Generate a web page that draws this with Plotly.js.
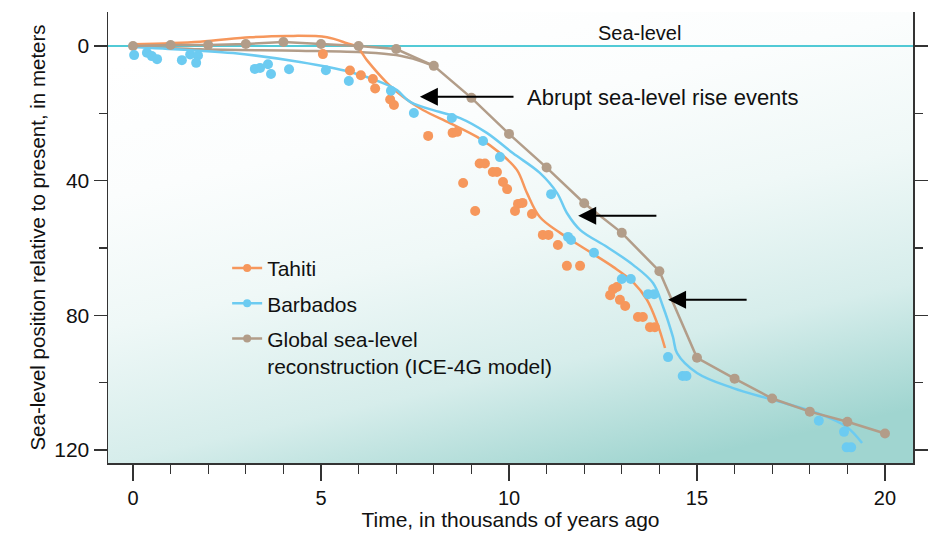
<!DOCTYPE html>
<html>
<head>
<meta charset="utf-8">
<script src="https://cdn.plot.ly/plotly-3.0.1.min.js"></script>
<style>html,body{margin:0;padding:0;background:#fff}#chart{width:938px;height:534px}</style>
</head>
<body>
<div id="chart"></div>
<script>
// ---- data (time in thousands of years ago, sea level in meters below present) ----
const tahitiX = [5.05,5.77,6.06,6.38,6.44,6.84,6.94,7.85,8.5,8.62,9.22,9.36,9.57,9.68,9.84,9.95,8.78,10.24,10.36,10.16,10.61,9.1,10.9,11.05,11.3,11.54,11.89,12.77,12.87,12.69,12.95,13.09,13.43,13.56,13.75,13.88];
const tahitiY = [2.4,7.3,8.7,9.8,12.6,15.9,17.5,26.7,25.8,25.5,34.9,34.9,37.4,37.4,40.4,42.5,40.7,46.9,46.6,49,49.9,49,56.1,56.1,59.1,65.3,65.3,72.2,71.6,74,75.4,77.2,80.5,80.5,83.5,83.5];

const barbadosX = [0.03,0.37,0.5,0.64,1.3,1.52,1.73,1.68,3.24,3.38,3.59,3.67,4.15,5.13,5.74,6.86,7.47,8.48,9.31,9.76,11.12,11.57,11.65,12.26,13.0,13.24,13.7,13.86,14.23,14.62,14.72,18.24,18.91,18.98,19.1];
const barbadosY = [2.7,2.0,3.0,3.9,4.2,2.5,2.8,5.0,6.8,6.5,5.4,8.3,6.9,7.2,10.4,13.3,19.9,21.4,28.2,33,44,56.7,57.6,61.4,69.2,69.2,73.7,73.7,92.4,98,98,111.3,114.6,119.2,119.2];

const tahitiCurveX = [0,1.78,3.11,4.1,5.16,5.69,5.96,6.22,6.76,7.18,7.71,8.43,9.15,9.76,10.21,10.48,10.82,11.36,12.07,12.77,13.3,13.67,13.94,14.15];
const tahitiCurveY = [-0.5,-1.3,-2.6,-3.0,-2.6,-0.8,0.3,4.2,11,15.1,19,22.9,27,31.8,36.8,43.7,50.8,55.5,60.6,65.6,70.1,75.4,82.3,89.7];

const barbadosCurveX = [0,0.5,2.66,4.44,5.77,6.65,7.02,7.37,8.16,8.7,9.41,10.1,10.82,11.28,11.54,11.89,12.61,13.3,13.83,14.1,14.36,14.47,15.0,15.96,17.02,18.19,18.99,19.39];
const barbadosCurveY = [0.3,0.6,2.1,4.75,7.7,11,13.1,16.6,19.6,21.4,25.8,31.8,37.7,43.7,49.6,54.6,59.7,65,70.4,77.5,86.4,91.2,97.1,101.6,105.1,109,113.2,117.9];

const globalX = [0,1,2,3,4,5,6,7,8,9,10,11,12,13,14,15,16,17,18,19,20];
const globalY = [0,-0.3,-0.3,-0.6,-1.2,-0.6,0,0.9,5.9,15.4,26.1,36.1,46.7,55.5,66.9,92.6,98.8,104.7,108.6,111.6,115.1];

const globalAltX = [0,1.8,4.4,6.2,7.0,7.6,8];
const globalAltY = [0,1.0,1.4,1.9,2.7,4.3,5.9];

const arrowHeadX = [7.63,11.84,14.23];
const arrowTailX = [10.16,13.96,16.36];
const arrowY = [15.1,50.4,75.4];

const legendNames = ['Tahiti','Barbados','Global sea-level<br>reconstruction (ICE-4G model)'];

// ---- styles ----
const ORANGE = '#f6975c', BLUE = '#6ccbf1', BROWN = '#b29d89', CYAN = '#19b9c8';
const FONT = '"Liberation Sans", Arial, Helvetica, sans-serif';
const NARROW = '"Liberation Sans Narrow", "Arial Narrow", "Liberation Sans", Arial, sans-serif';

const traces = [
  {x: globalAltX, y: globalAltY, mode:'lines', line:{color:BROWN, width:2.5, shape:'spline'}, showlegend:false, hoverinfo:'skip'},
  {x: tahitiCurveX, y: tahitiCurveY, mode:'lines', line:{color:ORANGE, width:2.5, shape:'spline'}, showlegend:false},
  {x: barbadosCurveX, y: barbadosCurveY, mode:'lines', line:{color:BLUE, width:2.5, shape:'spline'}, showlegend:false},
  {x: globalX, y: globalY, mode:'lines+markers', line:{color:BROWN, width:2.5}, marker:{color:BROWN, size:10}, showlegend:false},
  {x: tahitiX, y: tahitiY, mode:'markers', marker:{color:ORANGE, size:10}, showlegend:false},
  {x: barbadosX, y: barbadosY, mode:'markers', marker:{color:BLUE, size:10}, showlegend:false},
  {x:[null], y:[null], name:legendNames[0], legendgroup:'a', mode:'lines+markers', line:{color:ORANGE, width:2.5}, marker:{color:ORANGE, size:8}},
  {x:[null], y:[null], name:legendNames[1], legendgroup:'b', mode:'lines+markers', line:{color:BLUE, width:2.5}, marker:{color:BLUE, size:8}},
  {x:[null], y:[null], name:legendNames[2], legendgroup:'c', mode:'lines+markers', line:{color:BROWN, width:2.5}, marker:{color:BROWN, size:8}}
];

const annotations = arrowHeadX.map((hx, i) => ({
  x: hx, y: arrowY[i], ax: arrowTailX[i], ay: arrowY[i], axref:'x', ayref:'y', xref:'x', yref:'y',
  text:'', showarrow:true, arrowhead:2, arrowsize:1.8, arrowwidth:2, arrowcolor:'#000'
}));
annotations.push({x:10.43, y:15.3, xref:'x', yref:'y', text:'Abrupt sea-level rise events', showarrow:false, xanchor:'left', yanchor:'middle', font:{family:FONT, size:22, color:'#111'}});
annotations.push({x:13.48, y:0, xref:'x', yref:'y', text:'Sea-level', showarrow:false, xanchor:'center', yanchor:'bottom', yshift:0, font:{family:FONT, size:20, color:'#111'}});

const grad = '<svg xmlns="http://www.w3.org/2000/svg" width="800" height="450" viewBox="0 0 800 450" preserveAspectRatio="none">' +
  '<defs><linearGradient id="g" x1="0.3" y1="0" x2="0.7" y2="1">' +
  '<stop offset="0" stop-color="#ffffff"/><stop offset="0.25" stop-color="#fbfdfd"/><stop offset="0.5" stop-color="#eff8f7"/><stop offset="0.76" stop-color="#d6edeb"/><stop offset="1" stop-color="#a0d5d0"/>' +
  '</linearGradient></defs><rect width="800" height="450" fill="url(#g)"/></svg>';

const layout = {
  width: 938, height: 534,
  margin: {l:108, r:25, t:12, b:71},
  paper_bgcolor:'#ffffff', plot_bgcolor:'rgba(0,0,0,0)',
  font:{family:FONT, size:18, color:'#111'},
  images:[{source:'data:image/svg+xml;charset=utf-8,' + encodeURIComponent(grad), xref:'paper', yref:'paper', x:0, y:1, sizex:1, sizey:1, sizing:'stretch', xanchor:'left', yanchor:'top', layer:'below'}],
  xaxis:{range:[-0.665,20.745], showgrid:false, zeroline:false, showline:true, linecolor:'#333', linewidth:1.5,
    tickmode:'linear', tick0:0, dtick:5, ticks:'outside', ticklen:16, tickwidth:1.2, tickcolor:'#333',
    minor:{dtick:1, tick0:0, ticks:'outside', ticklen:9, tickwidth:1.2, tickcolor:'#333'},
    tickfont:{family:NARROW, size:20, color:'#111'},
    title:{text:'Time, in thousands of years ago', font:{family:FONT, size:21, color:'#111'}, standoff:5}},
  yaxis:{range:[123.85,-10.1], showgrid:false, zeroline:false, showline:true, mirror:'ticks', linecolor:'#333', linewidth:1.5,
    tickmode:'linear', tick0:0, dtick:40, ticks:'outside', ticklen:13, tickwidth:1.2, tickcolor:'#333',
    minor:{dtick:20, tick0:0, ticks:'outside', ticklen:8, tickwidth:1.2, tickcolor:'#333'},
    tickfont:{family:NARROW, size:21, color:'#111'},
    title:{text:'Sea-level position relative to present, in meters', font:{family:FONT, size:20.5, color:'#111'}, standoff:3}},
  shapes:[{type:'line', xref:'paper', x0:0, x1:1, yref:'y', y0:0, y1:0, line:{color:CYAN, width:1.5}, layer:'below'}],
  annotations: annotations,
  legend:{x:0.148, y:0.477, xanchor:'left', yanchor:'top', bgcolor:'rgba(0,0,0,0)', borderwidth:0,
    font:{family:FONT, size:21, color:'#111'}, traceorder:'grouped', tracegroupgap:5, valign:'top'},
  showlegend:true
};

Plotly.newPlot('chart', traces, layout, {displayModeBar:false, staticPlot:true});
</script>
</body>
</html>
